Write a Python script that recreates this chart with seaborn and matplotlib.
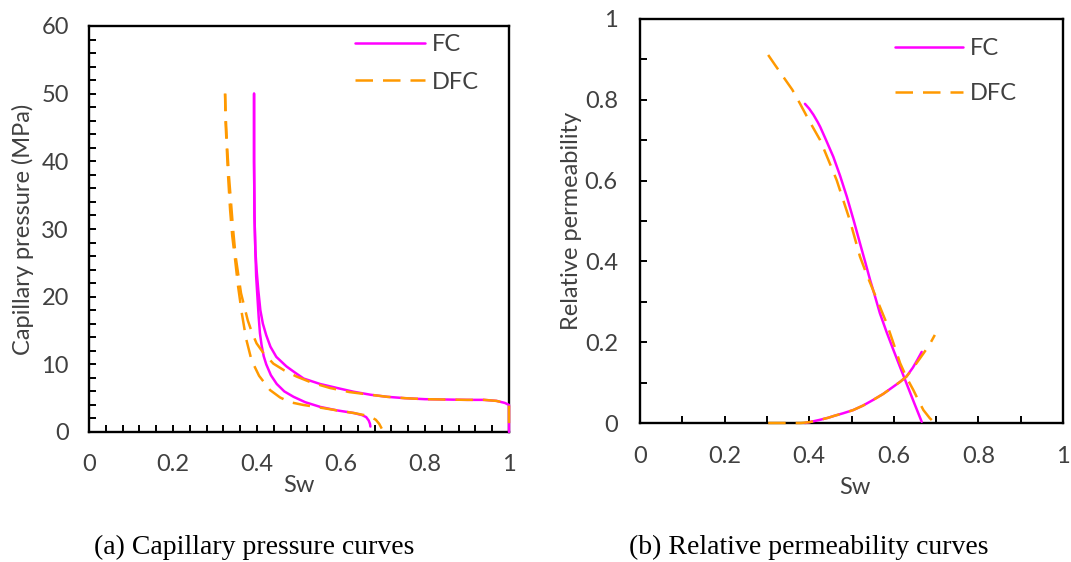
import numpy as np
import pandas as pd
import matplotlib
matplotlib.use("Agg")
import matplotlib.pyplot as plt
import seaborn as sns
from matplotlib.lines import Line2D
from matplotlib.ticker import MultipleLocator, FuncFormatter

# ---------------- data: capillary pressure (Sw, Pc in MPa) ----------------
fc_pc_up_sw = [0.393, 0.393, 0.394, 0.396, 0.399, 0.403, 0.408, 0.414, 0.422, 0.432, 0.446, 0.470, 0.490, 0.511,
               0.550, 0.591, 0.630, 0.671, 0.710, 0.752, 0.800, 0.850, 0.900, 0.940, 0.970, 0.990, 1.000, 1.000]
fc_pc_up_pc = [50, 40, 32, 27, 24, 21, 18, 16, 14.3, 12.6, 11.1, 9.7, 8.8, 7.9,
               7.1, 6.5, 5.95, 5.5, 5.2, 5.0, 4.85, 4.8, 4.75, 4.75, 4.6, 4.3, 4.0, 0.0]
fc_pc_lo_sw = [0.393, 0.393, 0.394, 0.396, 0.398, 0.401, 0.404, 0.407, 0.411, 0.416, 0.422, 0.433, 0.447, 0.465,
               0.487, 0.515, 0.551, 0.590, 0.631, 0.650, 0.660, 0.666, 0.669, 0.670]
fc_pc_lo_pc = [50, 40, 32, 27, 23, 20, 17, 14.6, 12.8, 11.2, 10.0, 8.4, 7.1, 6.0,
               5.2, 4.4, 3.7, 3.2, 2.8, 2.5, 2.2, 1.7, 1.2, 0.8]
dfc_pc_up_sw = [0.324, 0.326, 0.329, 0.333, 0.338, 0.343, 0.349, 0.356, 0.362, 0.370, 0.378, 0.388, 0.399, 0.415,
                0.439, 0.465, 0.494, 0.530, 0.574, 0.620, 0.671, 0.710, 0.752, 0.800, 0.850, 0.900, 0.940, 0.970,
                0.990, 1.000, 1.000]
dfc_pc_up_pc = [50, 46, 42, 38, 34, 30, 26, 23, 20.5, 18.5, 16.5, 14.7, 13.1, 11.7,
                10.1, 9.1, 8.2, 7.3, 6.5, 5.9, 5.5, 5.2, 5.0, 4.85, 4.8, 4.75, 4.75, 4.6,
                4.3, 4.0, 0.0]
dfc_pc_lo_sw = [0.324, 0.325, 0.328, 0.331, 0.336, 0.341, 0.348, 0.355, 0.364, 0.374, 0.387, 0.405, 0.431, 0.455,
                0.479, 0.510, 0.551, 0.590, 0.631, 0.655, 0.672, 0.683, 0.691, 0.697]
dfc_pc_lo_pc = [50, 46, 42, 38, 32.8, 29, 25.4, 21.5, 17.5, 13.8, 10.6, 8.3, 6.2, 5.1,
                4.4, 4.0, 3.6, 3.2, 2.8, 2.5, 2.2, 1.8, 1.2, 0.5]

# ---------------- data: relative permeability ----------------
fc_kro_sw = [0.390, 0.400, 0.410, 0.420, 0.426, 0.440, 0.457, 0.473, 0.489, 0.505, 0.520, 0.532, 0.544,
             0.556, 0.567, 0.583, 0.599, 0.615, 0.630, 0.648, 0.666]
fc_kro = [0.790, 0.778, 0.763, 0.745, 0.733, 0.700, 0.659, 0.612, 0.560, 0.502, 0.445, 0.400, 0.354,
          0.312, 0.272, 0.225, 0.181, 0.138, 0.098, 0.050, 0.003]
dfc_kro_sw = [0.303, 0.320, 0.340, 0.360, 0.378, 0.400, 0.426, 0.445, 0.465, 0.480, 0.496, 0.508, 0.520,
              0.535, 0.551, 0.567, 0.583, 0.600, 0.615, 0.630, 0.646, 0.660, 0.670, 0.685, 0.697]
dfc_kro = [0.911, 0.885, 0.855, 0.825, 0.791, 0.748, 0.700, 0.652, 0.601, 0.553, 0.502, 0.457, 0.412,
           0.370, 0.329, 0.288, 0.247, 0.195, 0.148, 0.113, 0.082, 0.052, 0.032, 0.012, 0.0]
fc_krw_sw = [0.390, 0.400, 0.426, 0.445, 0.460, 0.480, 0.504, 0.527, 0.551, 0.575, 0.599, 0.615, 0.630,
             0.645, 0.655, 0.666]
fc_krw = [0.0, 0.002, 0.008, 0.013, 0.018, 0.024, 0.032, 0.043, 0.057, 0.072, 0.090, 0.102, 0.115,
          0.137, 0.155, 0.176]
dfc_krw_sw = [0.303, 0.350, 0.380, 0.400, 0.426, 0.445, 0.460, 0.480, 0.504, 0.527, 0.551, 0.575, 0.599,
              0.615, 0.630, 0.645, 0.655, 0.670, 0.685, 0.697]
dfc_krw = [0.0, 0.0, 0.0, 0.002, 0.008, 0.013, 0.018, 0.024, 0.032, 0.043, 0.057, 0.072, 0.090,
           0.102, 0.115, 0.135, 0.150, 0.172, 0.195, 0.218]

series_labels = ["FC", "DFC"]
caption_a = "(a) Capillary pressure curves"
caption_b = "(b) Relative permeability curves"

MAG = "#FF00FF"
ORA = "#FF9900"
TXT = "#404040"


def branch_df(pairs):
    rows = []
    for i, (xs, ys) in enumerate(pairs):
        for k, (x, y) in enumerate(zip(xs, ys)):
            rows.append({"Sw": x, "v": y, "branch": i, "order": k})
    return pd.DataFrame(rows)


sns.set_theme(style="ticks")
plt.rcParams["font.family"] = ["Lato", "DejaVu Sans"]

W, H = 1071, 562
fig = plt.figure(figsize=(W / 100, H / 100), dpi=100)
fig.patch.set_facecolor("white")


def px_axes(x0, y0, x1, y1):
    return fig.add_axes([x0 / W, 1 - y1 / H, (x1 - x0) / W, (y1 - y0) / H])


axA = px_axes(89, 26, 509, 432)
axB = px_axes(640, 19, 1063, 423)

LW = 1.8
DASH = (0, (7, 4))


def draw(ax, pairs, color, ls):
    df = branch_df(pairs)
    sns.lineplot(data=df, x="Sw", y="v", units="branch", estimator=None, sort=False,
                 color=color, linewidth=LW, linestyle=ls, ax=ax, legend=False,
                 clip_on=False, zorder=3)


# Panel a
draw(axA, [(fc_pc_up_sw, fc_pc_up_pc), (fc_pc_lo_sw, fc_pc_lo_pc)], MAG, "-")
draw(axA, [(dfc_pc_up_sw, dfc_pc_up_pc), (dfc_pc_lo_sw, dfc_pc_lo_pc)], ORA, DASH)
# Panel b
draw(axB, [(fc_kro_sw, fc_kro), (fc_krw_sw, fc_krw)], MAG, "-")
draw(axB, [(dfc_kro_sw, dfc_kro), (dfc_krw_sw, dfc_krw)], ORA, DASH)

FS = 17
fmt = FuncFormatter(lambda v, p: f"{v:g}")
for ax in (axA, axB):
    ax.set_xlim(0, 1)
    for s in ax.spines.values():
        s.set_linewidth(1.7)
        s.set_color("black")
        s.set_visible(True)
        s.set_zorder(2)
    ax.tick_params(which="both", direction="in", length=5, width=1.4, color="black",
                   labelsize=FS, labelcolor=TXT, top=False, right=False)
    ax.xaxis.set_major_locator(MultipleLocator(0.2))
    ax.xaxis.set_major_formatter(fmt)
    ax.yaxis.set_major_formatter(fmt)
    ax.set_facecolor("white")

axA.tick_params(axis="x", which="major", pad=15.5)
axA.tick_params(axis="y", which="major", pad=14.5)
axB.tick_params(axis="x", which="major", pad=16.5)
axB.tick_params(axis="y", which="major", pad=16)

axA.set_ylim(0, 60)
axA.xaxis.set_minor_locator(MultipleLocator(0.04))
axA.yaxis.set_major_locator(MultipleLocator(10))
axA.yaxis.set_minor_locator(MultipleLocator(2))
axA.set_xlabel("Sw", fontsize=FS, color=TXT)
axA.set_ylabel("Capillary pressure (MPa)", fontsize=FS, color=TXT)
axA.xaxis.set_label_coords(0.5, -0.106)
axA.yaxis.set_label_coords(-0.131, 0.5)

axB.set_ylim(0, 1)
axB.xaxis.set_minor_locator(MultipleLocator(0.1))
axB.yaxis.set_major_locator(MultipleLocator(0.2))
axB.yaxis.set_minor_locator(MultipleLocator(0.1))
axB.set_xlabel("Sw", fontsize=FS, color=TXT)
axB.set_ylabel("Relative permeability", fontsize=FS, color=TXT)
axB.xaxis.set_label_coords(0.508, -0.134)
axB.yaxis.set_label_coords(-0.137, 0.5)

handles = [Line2D([], [], color=MAG, lw=LW, linestyle="-"),
           Line2D([], [], color=ORA, lw=LW, linestyle=DASH)]
for ax, anchor, sp, hl in ((axA, (0.633, 0.98), 0.70, 2.97), (axB, (0.603, 0.953), 1.02, 2.88)):
    leg = ax.legend(handles, series_labels, loc="upper left", bbox_to_anchor=anchor,
                    frameon=False, fontsize=FS, handlelength=hl, handletextpad=0.3,
                    labelspacing=sp, borderaxespad=0, borderpad=0)
    for t in leg.get_texts():
        t.set_color(TXT)

fig.text(254 / W, 1 - 547 / H, caption_a, ha="center", va="center",
         fontsize=20, family="Liberation Serif", color="black")
fig.text(809 / W, 1 - 547 / H, caption_b, ha="center", va="center",
         fontsize=20, family="Liberation Serif", color="black")

fig.savefig("out.png", dpi=100, facecolor="white")
